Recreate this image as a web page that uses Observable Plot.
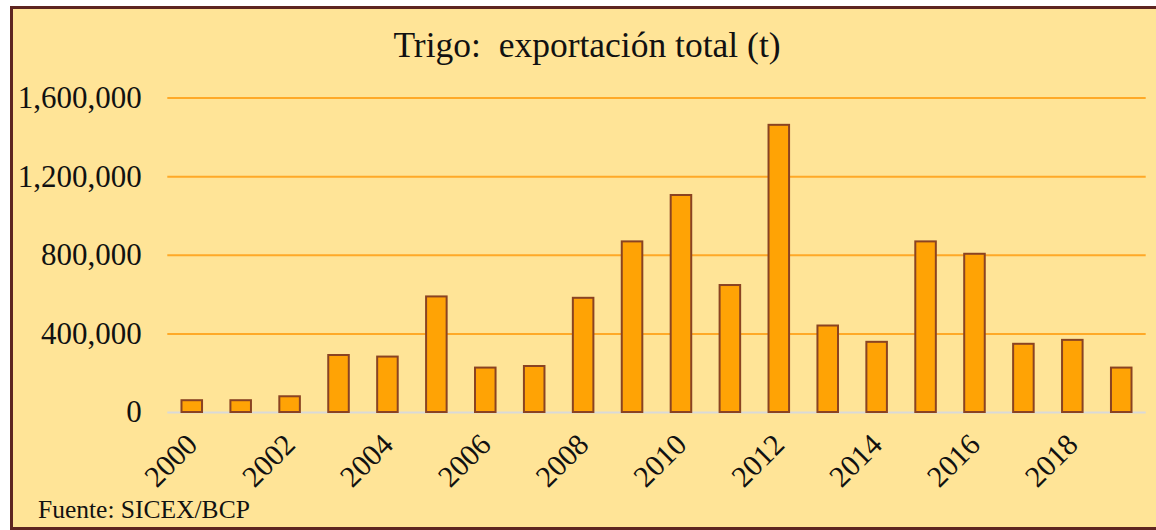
<!DOCTYPE html>
<html>
<head>
<meta charset="utf-8">
<script src="https://cdn.jsdelivr.net/npm/d3@7"></script>
<script src="https://cdn.jsdelivr.net/npm/@observablehq/plot@0.6"></script>
<style>
  html, body { margin: 0; padding: 0; background: #ffffff; overflow: hidden; width: 1156px; height: 530px; }
  #frame { position: absolute; left: 10px; top: 6px; width: 1148px; height: 518px;
           border: 3px solid #5e2521; background: #FFE497; }
  #title { position: absolute; left: 0; top: 19px; width: 1148px; text-align: center;
           font-family: "Liberation Serif", serif; font-size: 35.5px; line-height: 35.5px; color: #111; white-space: pre; }
  #chart { position: absolute; left: 0; top: 61px; }
  #caption { position: absolute; left: 25px; top: 488px; font-family: "Liberation Serif", serif;
             font-size: 25.5px; line-height: 25.5px; color: #111; white-space: pre; }
</style>
</head>
<body>
<div id="frame">
  <div id="title"></div>
  <div id="chart"></div>
  <div id="caption"></div>
</div>
<script>
const titleText = "Trigo:  exportación total (t)";
const captionText = "Fuente: SICEX/BCP";
const years = [2000, 2001, 2002, 2003, 2004, 2005, 2006, 2007, 2008, 2009,
               2010, 2011, 2012, 2013, 2014, 2015, 2016, 2017, 2018, 2019];
const exportsT = [60000, 60000, 80000, 290000, 282000, 588000, 226000, 234000, 581000, 868000,
                  1104000, 646000, 1461000, 440000, 357000, 868000, 805000, 347000, 367000, 226000];
const yTicks = [0, 400000, 800000, 1200000, 1600000];
const xTicks = [2000, 2002, 2004, 2006, 2008, 2010, 2012, 2014, 2016, 2018];

const data = years.map((y, i) => ({year: y, value: exportsT[i]}));

document.getElementById("title").textContent = titleText;
document.getElementById("caption").textContent = captionText;

const chart = Plot.plot({
  width: 1143,
  height: 425,
  marginTop: 27.5,
  marginBottom: 83,
  marginLeft: 154.3,
  marginRight: 10.3,
  style: {background: "transparent", fontFamily: "Liberation Serif, serif", fontSize: "30px", color: "#111"},
  x: {type: "band", domain: years, paddingInner: 0.58, paddingOuter: 0.29, align: 0.5, round: false},
  y: {domain: [0, 1600000]},
  marks: [
    Plot.ruleY(yTicks.filter(d => d > 0), {stroke: "#FFA927", strokeWidth: 2}),
    Plot.ruleY([0], {stroke: "#d9d9d9", strokeWidth: 2}),
    Plot.barY(data, {x: "year", y: "value", fill: "#FFA305", stroke: "#8a4322", strokeWidth: 2}),
    Plot.axisY({ticks: yTicks, tickFormat: d3.format(","), tickSize: 0, tickPadding: 26, label: null, fontSize: 31}),
    Plot.axisX({ticks: xTicks, tickFormat: d => String(d), tickSize: 0, tickRotate: -45, tickPadding: 27, label: null})
  ]
});
document.getElementById("chart").appendChild(chart);
</script>
</body>
</html>
